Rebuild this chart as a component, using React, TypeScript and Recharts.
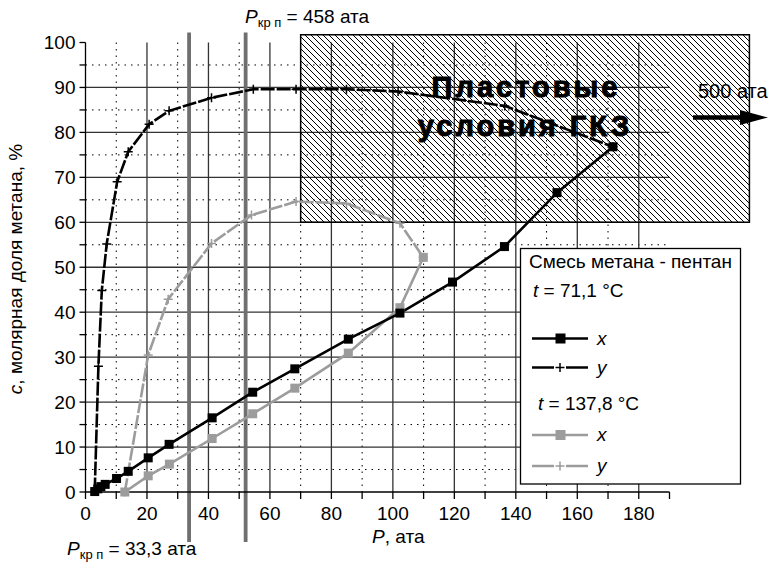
import React from "react";
import {
  LineChart, Line, XAxis, YAxis, CartesianGrid,
  ReferenceArea, ReferenceLine,
} from "recharts";

const FONT = "'Liberation Sans', Arial, Helvetica, sans-serif";
const GRAY = "#9c9c9c";

// t = 71,1 °C : liquid (x) and vapour (y) methane fraction, %
const x71P = [3.0, 4.0, 5.0, 6.4, 10.1, 13.9, 20.4, 27.2, 41.2, 54.4, 68.1, 85.5, 102.3, 119.4, 136.3, 153.4, 171.6];
const x71C = [0.1, 0.7, 1.2, 1.7, 3.0, 4.6, 7.6, 10.6, 16.5, 22.2, 27.4, 34.0, 39.8, 46.7, 54.6, 66.6, 76.8];
const y71P = [3.0, 4.2, 5.3, 6.9, 10.3, 13.9, 20.7, 27.2, 41.0, 54.6, 68.5, 84.9, 101.7, 136.4, 171.6];
const y71C = [0.1, 28.0, 44.8, 55.2, 69.0, 75.7, 81.8, 84.8, 87.7, 89.6, 89.6, 89.6, 89.1, 85.9, 76.8];

// t = 137,8 °C
const x138P = [12.8, 20.4, 27.3, 41.2, 54.4, 68.1, 85.5, 102.3, 109.9];
const x138C = [0, 3.6, 6.2, 11.9, 17.4, 23.1, 30.9, 41.0, 52.2];
const y138P = [12.8, 20.4, 26.9, 41.0, 54.0, 68.5, 84.9, 102.3, 109.9];
const y138C = [0, 30.5, 42.9, 55.3, 61.6, 64.6, 64.2, 59.8, 52.2];

// axes and grid
const pTicks = [0, 10, 20, 30, 40, 50, 60, 70, 80, 90, 100, 110, 120, 130, 140, 150, 160, 170, 180, 190];
const cTicks = [0, 5, 10, 15, 20, 25, 30, 35, 40, 45, 50, 55, 60, 65, 70, 75, 80, 85, 90, 95, 100];
const gridP = [20, 40, 60, 80, 100, 120, 140, 160, 180];
const gridPMinor = [10, 30, 50, 70, 90, 110, 130, 150, 170];
const gridC = [10, 20, 30, 40, 50, 60, 70, 80, 90];
const gridCMinor = [5, 15, 25, 35, 45, 55, 65, 75, 85, 95];

// critical pressure lines and the reservoir-conditions zone
const pKr = [33.7, 52.1];
const krRange = [-11.1, 102.2];
const zoneP = [70, 216];
const zoneC = [60, 101.7];

const toPoints = (ps: number[], cs: number[]) => ps.map((P, i) => ({ P, c: cs[i] }));

const squareDot = (color: string) => (props: any) => {
  const { cx, cy, index } = props;
  if (cx == null || cy == null) return <g key={`s${index}`} />;
  return <rect key={`s${index}`} x={cx - 4.5} y={cy - 4.5} width={9} height={9} fill={color} />;
};

const plusDot = (color: string) => (props: any) => {
  const { cx, cy, index } = props;
  if (cx == null || cy == null) return <g key={`p${index}`} />;
  return (
    <path key={`p${index}`} d={`M${cx - 4.5},${cy}h9M${cx},${cy - 4.5}v9`}
      stroke={color} strokeWidth={1.5} fill="none" strokeDasharray="none" />
  );
};

const tickStyle = { fontSize: 19, fill: "#000", fontFamily: FONT };

function LegendRow({ y, color, marker, label }: { y: number; color: string; marker: "square" | "plus"; label: string }) {
  return (
    <g>
      <line x1={532} x2={588} y1={y} y2={y} stroke={color} strokeWidth={2.6} />
      {marker === "square"
        ? <rect x={555.5} y={y - 5} width={10} height={10} fill={color} />
        : <g>
            <rect x={554} y={y - 4} width={12} height={8} fill="#fff" />
            <path d={`M555.5,${y}h9M560,${y - 4.5}v9`} stroke={color} strokeWidth={1.5} />
          </g>}
      <text x={597} y={y + 6} fontSize={19} fontStyle="italic">{label}</text>
    </g>
  );
}

export default function App() {
  return (
    <div style={{ position: "absolute", left: 0, top: 0, width: 772, height: 567, background: "#fff", fontFamily: FONT }}>
      <LineChart width={772} height={567} margin={{ top: 42.5, right: 102.5, bottom: 45, left: 0 }}>
        <defs>
          <pattern id="hatch" patternUnits="userSpaceOnUse" width={6} height={6}>
            <path d="M0,0L6,6M-1,5L1,7M5,-1L7,1" stroke="#000" strokeWidth={1.2} shapeRendering="crispEdges" />
          </pattern>
        </defs>
        <CartesianGrid stroke="#000" strokeDasharray="1.5 5" strokeWidth={1}
          horizontalValues={gridCMinor} verticalValues={gridPMinor} />
        <CartesianGrid stroke="#333" strokeWidth={1.3}
          horizontalValues={gridC} verticalValues={gridP} />
        <XAxis
          type="number"
          dataKey="P"
          domain={[0, 190]}
          ticks={pTicks}
          interval={0}
          tickFormatter={(v: number) => (v % 20 === 0 ? String(v) : "")}
          tick={tickStyle}
          tickSize={7}
          tickMargin={8}
          axisLine={{ stroke: "#000", strokeWidth: 1.3 }}
          tickLine={{ stroke: "#000", strokeWidth: 1.3 }}
          height={30}
        />
        <YAxis
          type="number"
          domain={[0, 100]}
          ticks={cTicks}
          interval={0}
          tickFormatter={(v: number) => (v % 10 === 0 ? String(v) : "")}
          tick={tickStyle}
          tickSize={6}
          tickMargin={4}
          axisLine={{ stroke: "#000", strokeWidth: 1.3 }}
          tickLine={{ stroke: "#000", strokeWidth: 1.3 }}
          width={85.5}
        />
        <ReferenceArea x1={zoneP[0]} x2={zoneP[1]} y1={zoneC[0]} y2={zoneC[1]}
          ifOverflow="visible" fill="url(#hatch)" fillOpacity={1} stroke="#000" strokeWidth={1.5} />
        {pKr.map((p) => (
          <ReferenceLine key={p} ifOverflow="visible" stroke="#6f6f6f" strokeWidth={3.8}
            segment={[{ x: p, y: krRange[0] }, { x: p, y: krRange[1] }]} />
        ))}
        <Line data={toPoints(y138P, y138C)} dataKey="c" type="linear" stroke={GRAY} strokeWidth={2.6}
          strokeDasharray="14 2" dot={plusDot(GRAY)} activeDot={false} isAnimationActive={false} />
        <Line data={toPoints(x138P, x138C)} dataKey="c" type="linear" stroke={GRAY} strokeWidth={2.6}
          dot={squareDot(GRAY)} activeDot={false} isAnimationActive={false} />
        <Line data={toPoints(y71P, y71C)} dataKey="c" type="linear" stroke="#000" strokeWidth={2.6}
          strokeDasharray="14 2" dot={plusDot("#000")} activeDot={false} isAnimationActive={false} />
        <Line data={toPoints(x71P, x71C)} dataKey="c" type="linear" stroke="#000" strokeWidth={2.6}
          dot={squareDot("#000")} activeDot={false} isAnimationActive={false} />
      </LineChart>

      <svg width={772} height={567} fontFamily={FONT}
        style={{ position: "absolute", left: 0, top: 0, pointerEvents: "none" }}>
        <text x={245} y={23} fontSize={19}>
          <tspan fontStyle="italic">P</tspan>
          <tspan fontSize={13} dy={4}>кр п</tspan>
          <tspan dy={-4}>{" = 458 ата"}</tspan>
        </text>
        <text x={67} y={555} fontSize={19}>
          <tspan fontStyle="italic">P</tspan>
          <tspan fontSize={13} dy={4}>кр п</tspan>
          <tspan dy={-4}>{" = 33,3 ата"}</tspan>
        </text>
        <text x={372} y={543} fontSize={19}>
          <tspan fontStyle="italic">P</tspan>
          <tspan>{", ата"}</tspan>
        </text>
        <text transform="translate(22,269) rotate(-90)" textAnchor="middle" fontSize={19}>
          <tspan fontStyle="italic">c</tspan>
          <tspan>{", молярная доля метана, %"}</tspan>
        </text>

        <text x={526} y={97} textAnchor="middle" fontSize={29} fontWeight="bold" letterSpacing={3}
          stroke="#000" strokeWidth={1}>Пластовые</text>
        <text x={525} y={136} textAnchor="middle" fontSize={29} fontWeight="bold" letterSpacing={3}
          stroke="#000" strokeWidth={1}>условия ГКЗ</text>

        <text x={698} y={98} fontSize={20}>500 ата</text>
        <line x1={693} x2={745} y1={117.5} y2={117.5} stroke="#000" strokeWidth={4.5} />
        <polygon points="740,110 768,117.5 740,125" fill="#000" />

        <rect x={520.5} y={248.5} width={220} height={235.5} fill="#fff" stroke="#000" strokeWidth={1.3} />
        <text x={529} y={268} fontSize={19}>Смесь метана - пентан</text>
        <text x={533} y={297} fontSize={19}>
          <tspan fontStyle="italic">t</tspan>
          <tspan>{" = 71,1 °C"}</tspan>
        </text>
        <LegendRow y={338.5} color="#000" marker="square" label="x" />
        <LegendRow y={367.5} color="#000" marker="plus" label="y" />
        <text x={538} y={410} fontSize={19}>
          <tspan fontStyle="italic">t</tspan>
          <tspan>{" = 137,8 °C"}</tspan>
        </text>
        <LegendRow y={435} color={GRAY} marker="square" label="x" />
        <LegendRow y={466} color={GRAY} marker="plus" label="y" />
      </svg>
    </div>
  );
}
